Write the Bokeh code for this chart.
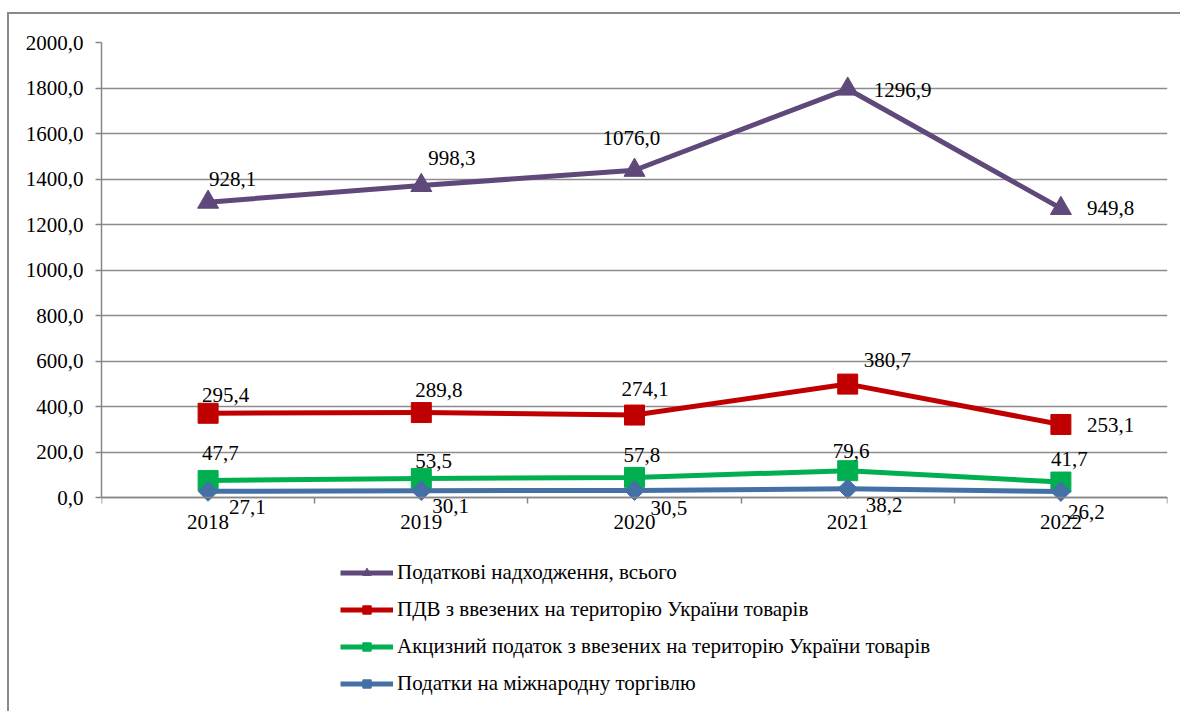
import numpy as np
from bokeh.plotting import figure
from bokeh.models import (ColumnDataSource, FixedTicker, LabelSet, Legend, LegendItem)
from bokeh.embed import file_html
from bokeh.resources import INLINE

# ---------------- data ----------------
years = ["2018", "2019", "2020", "2021", "2022"]
series_names = [
    "Податкові надходження, всього",
    "ПДВ з ввезених на територію України товарів",
    "Акцизний податок з ввезених на територію України товарів",
    "Податки на міжнародну торгівлю",
]
tax_total = [928.1, 998.3, 1076.0, 1296.9, 949.8]
vat_import = [295.4, 289.8, 274.1, 380.7, 253.1]
excise_import = [47.7, 53.5, 57.8, 79.6, 41.7]
intl_trade = [27.1, 30.1, 30.5, 38.2, 26.2]
y_ticks = [0, 200, 400, 600, 800, 1000, 1200, 1400, 1600, 1800, 2000]
y_tick_labels = ["0,0", "200,0", "400,0", "600,0", "800,0", "1000,0",
                 "1200,0", "1400,0", "1600,0", "1800,0", "2000,0"]

# ---------------- styles / layout ----------------
FONT = "'Liberation Serif', 'Times New Roman', 'DejaVu Serif', serif"
FS = "21px"
colors = ["#5F497A", "#C00000", "#00B050", "#4470A6"]
markers = ["triangle", "square", "square", "square"]
msizes = [21, 20, 20, 14]
mangles = [0, 0, 0, np.pi / 4]
# label offsets (screen px) relative to the point: (dx, dy up)
label_dx = [[1, 7, -32, 26, 26],
            [-6, -6, -13, 16, 26],
            [-6, -6, -11, -15, -10],
            [21, 11, 16, 18, 7]]
label_dy = [[23, 27, 32, -1, 0],
            [18, 23, 26, 24, -1],
            [27, 17, 22, 20, 23],
            [-16, -15, -17, -16, -20]]

PLOT_PX = 455      # pixel height of the 0..2000 value band
BELOW_PX = 208     # extra frame space below zero (legend area)
y_lo = -max(y_ticks) * BELOW_PX / PLOT_PX

p = figure(width=1173, height=699, x_range=(0, 5), y_range=(y_lo, max(y_ticks)),
           output_backend="svg", toolbar_location=None,
           min_border_left=92, min_border_right=15,
           min_border_top=28, min_border_bottom=8)
p.styles = {"border-top": "2px solid #8a8a8a", "border-left": "2px solid #8a8a8a",
            "margin-left": "7px", "margin-top": "12px"}
p.outline_line_color = None
p.background_fill_color = "white"
p.border_fill_color = "white"

# axes
xc = [i + 0.5 for i in range(len(years))]
p.xaxis.fixed_location = 0
p.xaxis.ticker = FixedTicker(ticks=xc, minor_ticks=list(range(len(years) + 1)))
p.xaxis.major_label_overrides = {x: y for x, y in zip(xc, years)}
p.xaxis.major_tick_out = 0
p.xaxis.major_tick_in = 0
p.xaxis.minor_tick_out = 6
p.xaxis.minor_tick_in = 0
p.xaxis.major_label_standoff = 11
p.yaxis.ticker = FixedTicker(ticks=y_ticks)
p.yaxis.bounds = (0, max(y_ticks))
p.yaxis.major_label_overrides = {v: s for v, s in zip(y_ticks, y_tick_labels)}
p.yaxis.major_tick_out = 6
p.yaxis.major_tick_in = 0
p.yaxis.minor_tick_out = 0
p.yaxis.minor_tick_in = 0
p.yaxis.major_label_standoff = 12
for ax in (p.xaxis, p.yaxis):
    ax.axis_line_color = "#868686"
    ax.axis_line_width = 1.5
    ax.major_tick_line_color = "#868686"
    ax.major_tick_line_width = 1.5
    ax.minor_tick_line_color = "#868686"
    ax.minor_tick_line_width = 1.5
    ax.major_label_text_font = FONT
    ax.major_label_text_font_size = FS
    ax.major_label_text_color = "black"

p.xgrid.grid_line_color = None
p.ygrid.grid_line_color = "#8c8c8c"
p.ygrid.grid_line_width = 1.5

# stacked line chart
raw = [tax_total, vat_import, excise_import, intl_trade]
stack = np.cumsum(np.array(raw[::-1]), axis=0)[::-1]  # top series = sum of all

items = []
for i in range(len(raw)):
    src = ColumnDataSource(dict(
        x=xc, y=list(stack[i]),
        lab=[f"{v:.1f}".replace(".", ",") for v in raw[i]],
        dx=label_dx[i], dy=label_dy[i]))
    ln = p.line("x", "y", source=src, line_color=colors[i], line_width=5,
                line_join="round")
    sc = p.scatter("x", "y", source=src, marker=markers[i], size=msizes[i],
                   angle=mangles[i], fill_color=colors[i], line_color=colors[i])
    items.append(LegendItem(label=series_names[i], renderers=[ln, sc]))
    ls = LabelSet(x="x", y="y", text="lab", source=src, x_offset="dx", y_offset="dy",
                  text_align="left", text_baseline="middle",
                  text_font=FONT, text_font_size=FS, text_color="black")
    p.add_layout(ls)

legend = Legend(items=items, location=(239, 9), orientation="vertical",
                label_text_font=FONT, label_text_font_size=FS,
                label_text_color="black", label_height=21, glyph_height=21,
                glyph_width=53, label_standoff=4, spacing=12, padding=0,
                margin=0, border_line_color=None, background_fill_alpha=0)
p.add_layout(legend, "center")

open("out.html", "w").write(file_html(p, INLINE))
